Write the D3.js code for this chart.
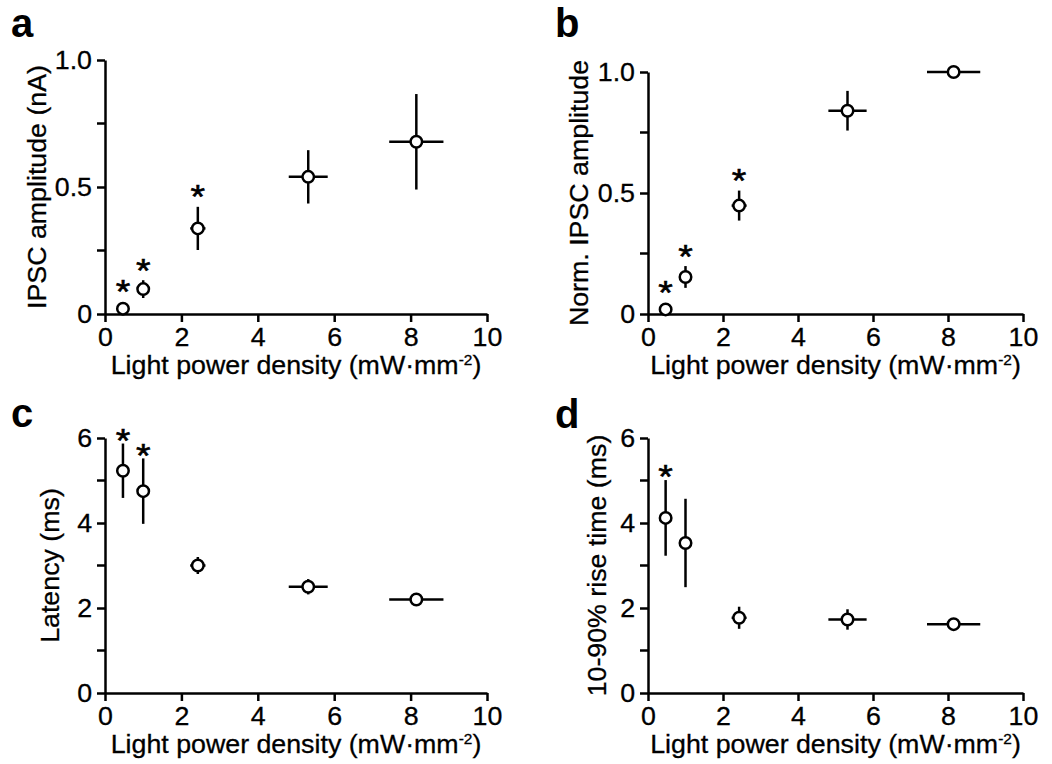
<!DOCTYPE html>
<html>
<head>
<meta charset="utf-8">
<script src="https://cdn.jsdelivr.net/npm/d3@7"></script>
<style>
  body { margin: 0; background: #fff; }
  svg text { font-family: "Liberation Sans", Arial, sans-serif; fill: #000; }
</style>
</head>
<body>
<div id="chart"></div>
<script>
// light power density (x) with its horizontal error, same for every panel
var power = [0.47, 1.0, 2.43, 5.32, 8.15];
var powerErr = [0, 0, 0.2, 0.51, 0.71];

// a: IPSC amplitude (nA)
var ampMean = [0.021, 0.098, 0.337, 0.54, 0.678];
var ampErr = [0.01, 0.035, 0.085, 0.105, 0.188];
var ampSig = [true, true, true, false, false];

// b: normalised IPSC amplitude
var normMean = [0.019, 0.153, 0.448, 0.84, 1.0];
var normErr = [0.01, 0.045, 0.062, 0.082, 0];
var normSig = [true, true, true, false, false];

// c: latency (ms)
var latMean = [5.23, 4.75, 3.0, 2.5, 2.2];
var latErr = [0.64, 0.77, 0.2, 0.18, 0.15];
var latSig = [true, true, false, false, false];

// d: 10-90% rise time (ms)
var riseMean = [4.12, 3.53, 1.77, 1.73, 1.62];
var riseErr = [0.89, 1.04, 0.26, 0.24, 0.12];
var riseSig = [true, false, false, false, false];

var xTicks = [0, 2, 4, 6, 8, 10];
var ampTicks = [0, 0.5, 1.0];
var ampMinor = [0.25, 0.75];
var msTicks = [0, 2, 4, 6];
var msMinor = [1, 3, 5];

var width = 1052;
var height = 764;
var fontSize = 26;
var stretch = 1.03;
var tickLen = 8;
var r = 5.75;

var svg = d3.select('#chart')
  .append('svg')
  .attr('width', width)
  .attr('height', height);

var panels = [
  {letter: 'a', lx: 11, ly: 37, x0: 105, x1: 487, y0: 314, y1: 60, ymax: 1,
   ticks: ampTicks, minor: ampMinor, label: 'IPSC amplitude (nA)', labelOff: 59, starGap: 18,
   mean: ampMean, err: ampErr, sig: ampSig},
  {letter: 'b', lx: 555, ly: 37, x0: 648, x1: 1023, y0: 314, y1: 72, ymax: 1,
   ticks: ampTicks, minor: ampMinor, label: 'Norm. IPSC amplitude', labelOff: 60, starGap: 18,
   mean: normMean, err: normErr, sig: normSig},
  {letter: 'c', lx: 11, ly: 427, x0: 105, x1: 487, y0: 693, y1: 438, ymax: 6,
   ticks: msTicks, minor: msMinor, label: 'Latency (ms)', labelOff: 46, starGap: 11,
   mean: latMean, err: latErr, sig: latSig},
  {letter: 'd', lx: 555, ly: 428, x0: 648, x1: 1023, y0: 693, y1: 438, ymax: 6,
   ticks: msTicks, minor: msMinor, label: '10-90% rise time (ms)', labelOff: 42, starGap: 12,
   mean: riseMean, err: riseErr, sig: riseSig}
];

// widen a text node slightly in place, keeping its anchor point
function widen(sel, k) {
  sel.each(function() {
    var t = d3.select(this);
    var x = +t.attr('x') || 0;
    t.attr('x', x / k)
     .attr('transform', (t.attr('transform') || '') + ' scale(' + k + ',1)');
  });
}

panels.forEach(function(p) {
  var x = d3.scaleLinear().domain([0, 10]).range([p.x0, p.x1]);
  var y = d3.scaleLinear().domain([0, p.ymax]).range([p.y0, p.y1]);
  var g = svg.append('g');

  g.append('text')
    .attr('x', p.lx)
    .attr('y', p.ly)
    .style('font-size', '40px')
    .style('font-weight', 'bold')
    .text(p.letter);

  var yFormat = p.ymax === 1
    ? function(d) { return d === 0 ? '0' : d3.format('.1f')(d); }
    : d3.format('d');

  g.append('g')
    .attr('class', 'axis')
    .attr('transform', 'translate(' + p.x0 + ',0)')
    .call(d3.axisLeft(y).tickValues(p.ticks).tickFormat(yFormat)
      .tickSize(tickLen).tickSizeOuter(0).tickPadding(5));

  g.append('g')
    .attr('class', 'axis')
    .attr('transform', 'translate(0,' + p.y0 + ')')
    .call(d3.axisBottom(x).tickValues(xTicks).tickFormat(d3.format('d'))
      .tickSize(tickLen).tickSizeOuter(0).tickPadding(6));

  // minor (unlabelled) ticks on the y axis
  g.selectAll('.minor')
    .data(p.minor)
    .enter()
    .append('line')
    .attr('class', 'minor')
    .attr('x1', p.x0 - tickLen)
    .attr('x2', p.x0)
    .attr('y1', function(d) { return y(d); })
    .attr('y2', function(d) { return y(d); })
    .attr('stroke', '#000')
    .attr('stroke-width', 2.5);

  g.selectAll('.axis path, .axis line')
    .attr('stroke', '#000')
    .attr('stroke-width', 2.5);
  g.selectAll('.axis text')
    .style('font-size', fontSize + 'px')
    .attr('fill', '#000')
    .attr('stroke', '#000')
    .attr('stroke-width', 0.3);
  widen(g.selectAll('.axis text'), stretch);

  // axis titles
  g.append('text')
    .attr('transform', 'translate(' + (p.x0 - p.labelOff) + ',' + ((p.y0 + p.y1) / 2) + ') rotate(-90) scale(' + stretch + ',1)')
    .attr('text-anchor', 'middle')
    .attr('stroke', '#000')
    .attr('stroke-width', 0.3)
    .style('font-size', fontSize + 'px')
    .text(p.label);

  var xl = g.append('text')
    .attr('transform', 'translate(' + ((p.x0 + p.x1) / 2) + ',' + (p.y0 + 60) + ') scale(' + stretch + ',1)')
    .attr('text-anchor', 'middle')
    .attr('stroke', '#000')
    .attr('stroke-width', 0.3)
    .style('font-size', fontSize + 'px');
  xl.append('tspan').text('Light power density (mW\u00b7mm');
  xl.append('tspan').attr('dy', -9).style('font-size', '15px').text('-2');
  xl.append('tspan').attr('dy', 9).text(')');

  var pts = power.map(function(v, i) {
    return {x: v, xe: powerErr[i], m: p.mean[i], e: p.err[i], sig: p.sig[i]};
  });

  var pg = g.selectAll('.pt')
    .data(pts)
    .enter()
    .append('g')
    .attr('class', 'pt');

  pg.append('line')
    .attr('x1', function(d) { return x(d.x); })
    .attr('x2', function(d) { return x(d.x); })
    .attr('y1', function(d) { return y(d.m - d.e); })
    .attr('y2', function(d) { return y(d.m + d.e); })
    .attr('stroke', '#000')
    .attr('stroke-width', 2.5);

  pg.append('line')
    .attr('x1', function(d) { return x(d.x - d.xe); })
    .attr('x2', function(d) { return x(d.x + d.xe); })
    .attr('y1', function(d) { return y(d.m); })
    .attr('y2', function(d) { return y(d.m); })
    .attr('stroke', '#000')
    .attr('stroke-width', 2.5);

  pg.append('circle')
    .attr('cx', function(d) { return x(d.x); })
    .attr('cy', function(d) { return y(d.m); })
    .attr('r', r)
    .attr('fill', '#fff')
    .attr('stroke', '#000')
    .attr('stroke-width', 2.5);

  // significance stars sit above the error bar (or the circle if the bar is hidden)
  var stars = pg.filter(function(d) { return d.sig; })
    .append('text')
    .attr('x', function(d) { return x(d.x); })
    .attr('y', function(d) {
      var top = Math.min(y(d.m + d.e), y(d.m) - r - 1.25);
      return top - p.starGap + 19.5;
    })
    .attr('text-anchor', 'middle')
    .attr('stroke', '#000')
    .attr('stroke-width', 0.6)
    .style('font-size', '34px')
    .text('*');
  widen(stars, 1.1);
});
</script>
</body>
</html>
